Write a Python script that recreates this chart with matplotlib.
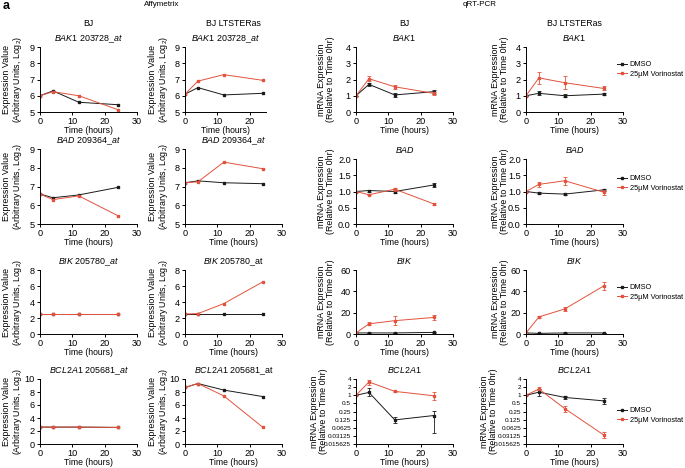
import matplotlib.pyplot as plt
import numpy as np

plt.rcParams["font.family"] = "Liberation Sans"
plt.rcParams["mathtext.fontset"] = "custom"
plt.rcParams["mathtext.rm"] = "Liberation Sans"
plt.rcParams["mathtext.it"] = "Liberation Sans:italic"
plt.rcParams["font.size"] = 6

hours = [0, 4, 12, 24]

# --- Affymetrix (log2 expression values) ---
bak1_bj_dmso = [6.0, 6.3, 5.6, 5.45]
bak1_bj_vor = [6.0, 6.25, 6.0, 5.15]
bak1_ras_dmso = [6.1, 6.5, 6.05, 6.15]
bak1_ras_vor = [6.1, 6.9, 7.3, 6.95]

bad_bj_dmso = [6.6, 6.4, 6.55, 6.95]
bad_bj_vor = [6.6, 6.3, 6.5, 5.45]
bad_ras_dmso = [7.2, 7.3, 7.2, 7.15]
bad_ras_vor = [7.2, 7.25, 8.3, 7.95]

bik_bj_dmso = [2.5, 2.5, 2.5, 2.5]
bik_bj_vor = [2.5, 2.5, 2.5, 2.5]
bik_ras_dmso = [2.5, 2.5, 2.5, 2.5]
bik_ras_vor = [2.5, 2.55, 3.8, 6.5]

bcl2a1_bj_dmso = [2.6, 2.6, 2.6, 2.55]
bcl2a1_bj_vor = [2.6, 2.6, 2.6, 2.55]
bcl2a1_ras_dmso = [8.7, 9.3, 8.3, 7.3]
bcl2a1_ras_vor = [8.7, 9.3, 7.4, 2.6]

# --- qRT-PCR (relative to time 0hr), mean and error ---
q_bak1_bj_dmso = [1.0, 1.7, 1.05, 1.25]
q_bak1_bj_dmso_err = [0.0, 0.08, 0.12, 0.12]
q_bak1_bj_vor = [1.0, 2.05, 1.55, 1.15]
q_bak1_bj_vor_err = [0.0, 0.15, 0.12, 0.1]
q_bak1_ras_dmso = [1.0, 1.15, 1.0, 1.1]
q_bak1_ras_dmso_err = [0.0, 0.12, 0.1, 0.08]
q_bak1_ras_vor = [1.0, 2.1, 1.8, 1.45]
q_bak1_ras_vor_err = [0.0, 0.35, 0.4, 0.12]

q_bad_bj_dmso = [1.0, 1.03, 1.0, 1.2]
q_bad_bj_dmso_err = [0.0, 0.03, 0.04, 0.05]
q_bad_bj_vor = [1.0, 0.9, 1.07, 0.62]
q_bad_bj_vor_err = [0.0, 0.02, 0.04, 0.02]
q_bad_ras_dmso = [1.0, 0.95, 0.92, 1.05]
q_bad_ras_dmso_err = [0.0, 0.04, 0.02, 0.04]
q_bad_ras_vor = [1.0, 1.22, 1.33, 0.98]
q_bad_ras_vor_err = [0.0, 0.07, 0.12, 0.08]

q_bik_bj_dmso = [1.0, 1.0, 1.0, 1.5]
q_bik_bj_dmso_err = [0.0, 0.3, 0.3, 0.5]
q_bik_bj_vor = [1.0, 9.5, 12.5, 15.5]
q_bik_bj_vor_err = [0.0, 1.5, 4.5, 2.0]
q_bik_ras_dmso = [1.0, 0.6, 1.0, 1.0]
q_bik_ras_dmso_err = [0.0, 0.3, 0.4, 0.4]
q_bik_ras_vor = [1.0, 16.0, 23.5, 45.0]
q_bik_ras_vor_err = [0.0, 1.0, 2.0, 3.5]

# log2 axis panels: mean with lower / upper bounds
q_bcl2a1_bj_dmso = [1.0, 1.27, 0.122, 0.177]
q_bcl2a1_bj_dmso_lo = [1.0, 0.9, 0.097, 0.039]
q_bcl2a1_bj_dmso_hi = [1.0, 1.85, 0.154, 0.265]
q_bcl2a1_bj_vor = [1.0, 3.1, 1.39, 0.96]
q_bcl2a1_bj_vor_lo = [1.0, 2.46, 1.3, 0.68]
q_bcl2a1_bj_vor_hi = [1.0, 3.8, 1.48, 1.27]
q_bcl2a1_ras_dmso = [1.0, 1.3, 0.83, 0.62]
q_bcl2a1_ras_dmso_lo = [1.0, 0.9, 0.72, 0.48]
q_bcl2a1_ras_dmso_hi = [1.0, 1.7, 0.96, 0.78]
q_bcl2a1_ras_vor = [1.0, 1.7, 0.32, 0.034]
q_bcl2a1_ras_vor_lo = [1.0, 1.5, 0.25, 0.025]
q_bcl2a1_ras_vor_hi = [1.0, 2.1, 0.41, 0.045]

log2_ticks = [4, 2, 1, 0.5, 0.25, 0.125, 0.0625, 0.03125, 0.015625]
log2_labels = ["4", "2", "1", "0.5", "0.25", "0.125", "0.0625", "0.03125", "0.015625"]

RED = "#e2523c"
BLACK = "#1a1a1a"

W, H = 685, 468
fig = plt.figure(figsize=(W / 100, H / 100), dpi=100)


def add_panel(left, top, right, bottom):
    return fig.add_axes([left / W, 1 - bottom / H, (right - left) / W, (bottom - top) / H])


def style(ax, title, ylim, yticks, xmax=30, xticks=(0, 10, 20, 30), ylabels=None, ysize=6.6):
    for s in ["top", "right"]:
        ax.spines[s].set_visible(False)
    for s in ["left", "bottom"]:
        ax.spines[s].set_linewidth(0.7)
    ax.set_xlim(0, xmax)
    ax.set_xticks(xticks)
    ax.set_ylim(*ylim)
    ax.set_yticks(yticks)
    if ylabels is not None:
        ax.set_yticklabels(ylabels)
    ax.minorticks_off()
    ax.tick_params(direction="out", length=2.5, width=0.7, labelsize=6.6, pad=1.2)
    ax.tick_params(axis="y", labelsize=ysize)
    ax.set_title(title, fontsize=6.4, pad=4)
    ax.set_xlabel("Time (hours)", fontsize=6.2, labelpad=0)


def affy(ax, dmso, vor):
    ax.plot(hours, dmso, color=BLACK, lw=0.7, marker="s", ms=1.7, label="DMSO")
    ax.plot(hours, vor, color=RED, lw=0.7, marker="s", ms=1.7, label="25µM Vorinostat")


def qpcr(ax, dmso, dmso_err, vor, vor_err):
    ax.plot(hours, dmso, color=BLACK, lw=0.7, marker="s", ms=1.9, label="DMSO")
    ax.errorbar(hours, dmso, yerr=dmso_err, fmt="none", ecolor=BLACK, elinewidth=0.6, capsize=1.3, capthick=0.6)
    ax.plot(hours, vor, color=RED, lw=0.7, marker="s", ms=1.9, label="25µM Vorinostat")
    ax.errorbar(hours, vor, yerr=vor_err, fmt="none", ecolor=RED, elinewidth=0.6, capsize=1.3, capthick=0.6)


def bounds(mean, lo, hi):
    return [np.array(mean) - np.array(lo), np.array(hi) - np.array(mean)]


cols = [(40, 137), (185, 282), (356, 453), (526, 623)]
rows_affy = [(47, 112), (149, 224), (270, 334), (379, 444)]
rows_qpcr = [(47, 112), (159, 224), (270, 334), (379, 444)]

# Row 1 : BAK1
ax = add_panel(cols[0][0], rows_affy[0][0], cols[0][1], rows_affy[0][1])
affy(ax, bak1_bj_dmso, bak1_bj_vor)
style(ax, r"$\it{BAK1\ 203728\_at}$", (5, 9), range(5, 10))
ax = add_panel(cols[1][0], rows_affy[0][0], cols[1][0] + 97 * 25 / 30, rows_affy[0][1])
affy(ax, bak1_ras_dmso, bak1_ras_vor)
style(ax, r"$\it{BAK1\ 203728\_at}$", (5, 9), range(5, 10), xmax=25, xticks=(0, 10, 20))
ax = add_panel(cols[2][0], rows_qpcr[0][0], cols[2][1], rows_qpcr[0][1])
qpcr(ax, q_bak1_bj_dmso, q_bak1_bj_dmso_err, q_bak1_bj_vor, q_bak1_bj_vor_err)
style(ax, r"$\it{BAK1}$", (0, 4), range(0, 5))
ax = add_panel(cols[3][0], rows_qpcr[0][0], cols[3][1], rows_qpcr[0][1])
qpcr(ax, q_bak1_ras_dmso, q_bak1_ras_dmso_err, q_bak1_ras_vor, q_bak1_ras_vor_err)
style(ax, r"$\it{BAK1}$", (0, 4), range(0, 5))
legend_axes = [ax]

# Row 2 : BAD
half = [0.0, 0.5, 1.0, 1.5, 2.0]
half_lbl = ["0.0", "0.5", "1.0", "1.5", "2.0"]
ax = add_panel(cols[0][0], rows_affy[1][0], cols[0][1], rows_affy[1][1])
affy(ax, bad_bj_dmso, bad_bj_vor)
style(ax, r"$\it{BAD\ 209364\_at}$", (5, 9), range(5, 10))
ax = add_panel(cols[1][0], rows_affy[1][0], cols[1][1], rows_affy[1][1])
affy(ax, bad_ras_dmso, bad_ras_vor)
style(ax, r"$\it{BAD\ 209364\_at}$", (5, 9), range(5, 10))
ax = add_panel(cols[2][0], rows_qpcr[1][0], cols[2][1], rows_qpcr[1][1])
qpcr(ax, q_bad_bj_dmso, q_bad_bj_dmso_err, q_bad_bj_vor, q_bad_bj_vor_err)
style(ax, r"$\it{BAD}$", (0, 2), half, ylabels=half_lbl)
ax = add_panel(cols[3][0], rows_qpcr[1][0], cols[3][1], rows_qpcr[1][1])
qpcr(ax, q_bad_ras_dmso, q_bad_ras_dmso_err, q_bad_ras_vor, q_bad_ras_vor_err)
style(ax, r"$\it{BAD}$", (0, 2), half, ylabels=half_lbl)
legend_axes.append(ax)

# Row 3 : BIK
ax = add_panel(cols[0][0], rows_affy[2][0], cols[0][1], rows_affy[2][1])
affy(ax, bik_bj_dmso, bik_bj_vor)
style(ax, r"$\it{BIK\ 205780\_at}$", (0, 8), range(0, 9, 2))
ax = add_panel(cols[1][0], rows_affy[2][0], cols[1][1], rows_affy[2][1])
affy(ax, bik_ras_dmso, bik_ras_vor)
style(ax, r"$\it{BIK}$ 205780_at", (0, 8), range(0, 9, 2))
ax = add_panel(cols[2][0], rows_qpcr[2][0], cols[2][1], rows_qpcr[2][1])
qpcr(ax, q_bik_bj_dmso, q_bik_bj_dmso_err, q_bik_bj_vor, q_bik_bj_vor_err)
style(ax, r"$\it{BIK}$", (0, 60), range(0, 61, 20))
ax = add_panel(cols[3][0], rows_qpcr[2][0], cols[3][1], rows_qpcr[2][1])
qpcr(ax, q_bik_ras_dmso, q_bik_ras_dmso_err, q_bik_ras_vor, q_bik_ras_vor_err)
style(ax, r"$\it{BIK}$", (0, 60), range(0, 61, 20))
legend_axes.append(ax)

# Row 4 : BCL2A1
ax = add_panel(cols[0][0], rows_affy[3][0], cols[0][1], rows_affy[3][1])
affy(ax, bcl2a1_bj_dmso, bcl2a1_bj_vor)
style(ax, r"$\it{BCL2A1\ 205681\_at}$", (0, 10), range(0, 11, 2))
ax = add_panel(cols[1][0], rows_affy[3][0], cols[1][1], rows_affy[3][1])
affy(ax, bcl2a1_ras_dmso, bcl2a1_ras_vor)
style(ax, r"$\it{BCL2A1}$ 205681_at", (0, 10), range(0, 11, 2))
for i, (d, dlo, dhi, v, vlo, vhi) in enumerate([
        (q_bcl2a1_bj_dmso, q_bcl2a1_bj_dmso_lo, q_bcl2a1_bj_dmso_hi,
         q_bcl2a1_bj_vor, q_bcl2a1_bj_vor_lo, q_bcl2a1_bj_vor_hi),
        (q_bcl2a1_ras_dmso, q_bcl2a1_ras_dmso_lo, q_bcl2a1_ras_dmso_hi,
         q_bcl2a1_ras_vor, q_bcl2a1_ras_vor_lo, q_bcl2a1_ras_vor_hi)]):
    c = cols[2 + i]
    ax = add_panel(c[0], rows_qpcr[3][0], c[1], rows_qpcr[3][1])
    ax.set_yscale("log", base=2)
    qpcr(ax, d, bounds(d, dlo, dhi), v, bounds(v, vlo, vhi))
    style(ax, r"$\it{BCL2A1}$", (0.015625, 4), log2_ticks, ylabels=log2_labels, ysize=4.6)
    ax.tick_params(axis="y", pad=1)
legend_axes.append(ax)

# y labels
affy_ylabel = "Expression Value\n(Arbitrary Units, Log$_2$)"
qpcr_ylabel = "mRNA Expression\n(Relative to Time 0hr)"
for r in range(4):
    ya = (rows_affy[r][0] + rows_affy[r][1]) / 2
    yq = (rows_qpcr[r][0] + rows_qpcr[r][1]) / 2
    fig.text(13 / W, 1 - ya / H, affy_ylabel, rotation=90, ha="center", va="center", fontsize=6.4, linespacing=1.0)
    fig.text(159 / W, 1 - ya / H, affy_ylabel, rotation=90, ha="center", va="center", fontsize=6.4, linespacing=1.0)
    xq3, xq4 = (319, 489) if r == 3 else (326, 500)
    fig.text(xq3 / W, 1 - yq / H, qpcr_ylabel, rotation=90, ha="center", va="center", fontsize=6.4, linespacing=1.0)
    fig.text(xq4 / W, 1 - yq / H, qpcr_ylabel, rotation=90, ha="center", va="center", fontsize=6.4, linespacing=1.0)

# legends
legend_y = [61, 175, 284, 407]
for ax, y in zip(legend_axes, legend_y):
    ax.legend(loc="upper left", bbox_to_anchor=(617 / W, 1 - y / H), bbox_transform=fig.transFigure,
              frameon=False, fontsize=5.3, handlelength=1.4, handletextpad=0.3, labelspacing=0.3,
              borderpad=0, borderaxespad=0)

# headers
fig.text(3 / W, 1 - 6 / H, "a", fontsize=9, fontweight="bold", ha="left", va="center")
fig.text(162 / W, 1 - 5 / H, "Affymetrix", fontsize=5.8, ha="center", va="center")
fig.text(480 / W, 1 - 5 / H, "qRT-PCR", fontsize=5.8, ha="center", va="center")
for x, name in zip([88, 233, 404, 574], ["BJ", "BJ LTSTERas", "BJ", "BJ LTSTERas"]):
    fig.text(x / W, 1 - 23 / H, name, fontsize=6.3, ha="center", va="center")

fig.savefig("out.png", dpi=100)
